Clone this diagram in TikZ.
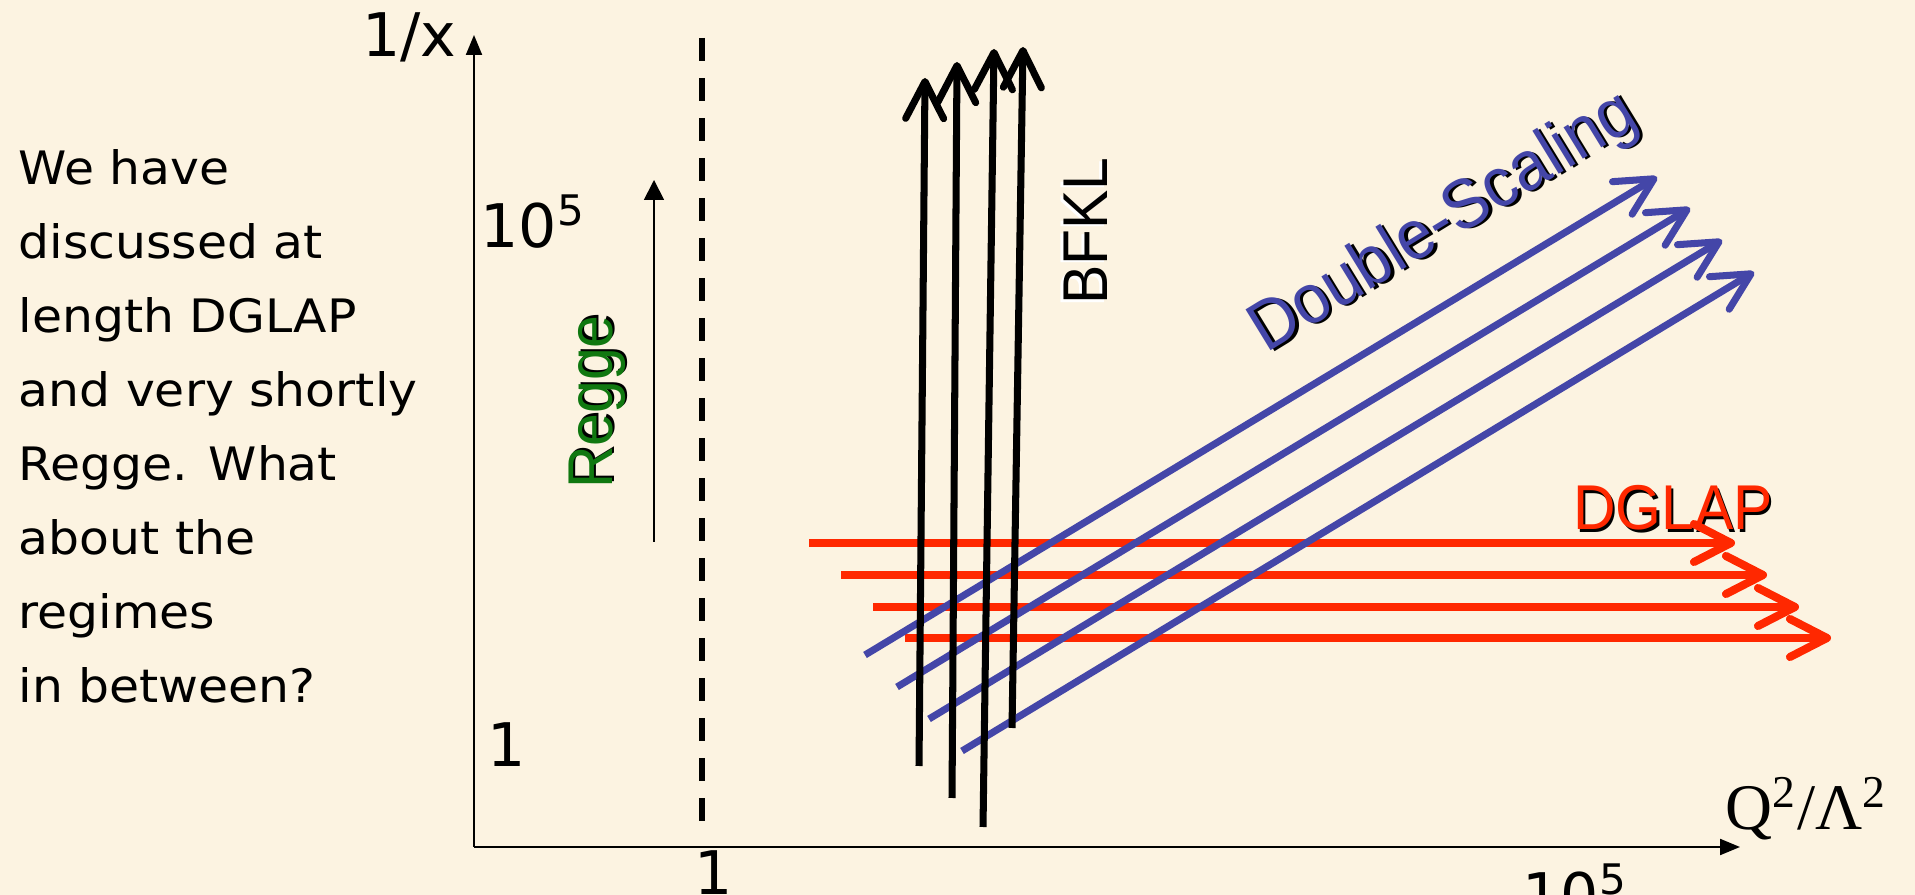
\documentclass[tikz,border=0pt]{standalone}
\usepackage{fontspec}
\usepackage{tikz}
\usetikzlibrary{arrows.meta}
\newfontfamily\slidefont[FakeStretch=1.06]{DejaVu Sans}
\newfontfamily\tickfont{DejaVu Sans}
\newfontfamily\labelfont[FakeStretch=0.93]{Liberation Sans}
\newfontfamily\serifaxis{Liberation Serif}
\definecolor{slidebg}{RGB}{252,243,225}
\definecolor{dsblue}{RGB}{68,70,168}
\definecolor{dglapred}{RGB}{255,40,0}
\definecolor{reggegreen}{RGB}{16,120,16}
\newcommand{\dropshadow}[2]{\makebox[0pt][l]{\kern0.7pt\raisebox{-0.7pt}{\textcolor{#1}{#2}}}#2}
\newcommand{\liftshadow}[2]{\makebox[0pt][l]{\kern-0.7pt\raisebox{0.7pt}{\textcolor{#1}{#2}}}#2}

\begin{document}
\begin{tikzpicture}[x=0.01cm, y=-0.01cm,
    slidetext/.style={font={\slidefont\fontsize{13.1}{21.05}\selectfont}, align=left, inner sep=0pt},
    ticklabel/.style={font={\tickfont\fontsize{17.1}{20}\selectfont}, inner sep=0pt},
    regimelabel/.style={font={\labelfont\fontsize{18}{20}\selectfont}, inner sep=0pt},
    axisline/.style={line width=0.6pt, -{Triangle[length=0.2cm,width=0.16cm]}},
    regime/.style={-{Straight Barb[length=0.37cm,width=0.38cm,round]}},
    bfkl/.style={regime, line width=2pt, black},
    dscale/.style={regime, line width=2pt, dsblue},
    dglap/.style={regime, line width=2.3pt, dglapred}]
    % Page
    \useasboundingbox (0,0) rectangle (1915,895);
    \clip (0,0) rectangle (1915,895);
    \fill[slidebg] (0,0) rectangle (1915,895);
    % Nodes
    \node[slidetext, anchor=north west] (question) at (18,149)
        {We have\\discussed at\\length DGLAP\\and very shortly\\Regge. What\\about the\\regimes\\in between?};
    \node[ticklabel, anchor=base east] (ylab) at (457,57) {1/x};
    \node[ticklabel, anchor=base west] (ytop) at (480,248) {10\textsuperscript{5}};
    \node[ticklabel, anchor=base west] (ybot) at (487,767) {1};
    \node[ticklabel, anchor=north] (xbot) at (714,850) {1};
    \node[ticklabel, anchor=north west] (xtop) at (1522,863) {10\textsuperscript{5}};
    \node[font={\serifaxis\fontsize{18.5}{20}\selectfont}, inner sep=0pt, anchor=base west] (xlab) at (1725,830)
        {Q\textsuperscript{2}/Λ\textsuperscript{2}};
    \node[regimelabel, reggegreen, rotate=90, anchor=base] (regge) at (612,402) {\dropshadow{black}{Regge}};
    \node[regimelabel, black, rotate=90, anchor=base] (bfklname) at (1107,231) {\liftshadow{white}{BFKL}};
    \node[font={\labelfont\fontsize{19.8}{22}\selectfont}, inner sep=0pt, dsblue, rotate=31.5, anchor=base west]
        (dsname) at (1266,354) {\dropshadow{black}{Double-Scaling}};
    \node[regimelabel, dglapred, anchor=base] (dglapname) at (1673,530) {\dropshadow{black}{DGLAP}};
    % Axes
    \coordinate (O) at (474,847);
    \coordinate (ytip) at (474,35);
    \coordinate (xtip) at (1740,847);
    \draw[axisline] (O) -- (ytip);
    \draw[axisline] (O) -- (xtip);
    \coordinate (cut0) at (702,38);
    \coordinate (cut1) at (702,827);
    \draw[line width=1.6pt, dash pattern=on 0.23cm off 0.17cm] (cut0) -- (cut1);
    \coordinate (rg0) at (654,542);
    \coordinate (rg1) at (654,180);
    \draw[line width=0.5pt, -{Triangle[length=0.2cm,width=0.2cm]}] (rg0) -- (rg1);
    % DGLAP arrows
    \coordinate (g1s) at (809,543);  \coordinate (g1e) at (1735,543);
    \coordinate (g2s) at (841,575);  \coordinate (g2e) at (1767,575);
    \coordinate (g3s) at (873,607);  \coordinate (g3e) at (1799,607);
    \coordinate (g4s) at (905,638);  \coordinate (g4e) at (1831,638);
    \draw[dglap] (g1s) -- (g1e);
    \draw[dglap] (g2s) -- (g2e);
    \draw[dglap] (g3s) -- (g3e);
    \draw[dglap] (g4s) -- (g4e);
    % Double-scaling arrows
    \coordinate (d1s) at (865,655);  \coordinate (d1e) at (1657,177);
    \coordinate (d2s) at (897,687);  \coordinate (d2e) at (1690,208);
    \coordinate (d3s) at (929,719);  \coordinate (d3e) at (1722,240);
    \coordinate (d4s) at (962,751);  \coordinate (d4e) at (1754,272);
    \draw[dscale] (d1s) -- (d1e);
    \draw[dscale] (d2s) -- (d2e);
    \draw[dscale] (d3s) -- (d3e);
    \draw[dscale] (d4s) -- (d4e);
    % BFKL arrows
    \coordinate (b1s) at (919,766);  \coordinate (b1e) at (925,78);
    \coordinate (b2s) at (952,798);  \coordinate (b2e) at (957,62);
    \coordinate (b3s) at (983,827);  \coordinate (b3e) at (994,49);
    \coordinate (b4s) at (1012,728); \coordinate (b4e) at (1023,47);
    \draw[bfkl] (b1s) -- (b1e);
    \draw[bfkl] (b2s) -- (b2e);
    \draw[bfkl] (b3s) -- (b3e);
    \draw[bfkl] (b4s) -- (b4e);
\end{tikzpicture}
\end{document}
